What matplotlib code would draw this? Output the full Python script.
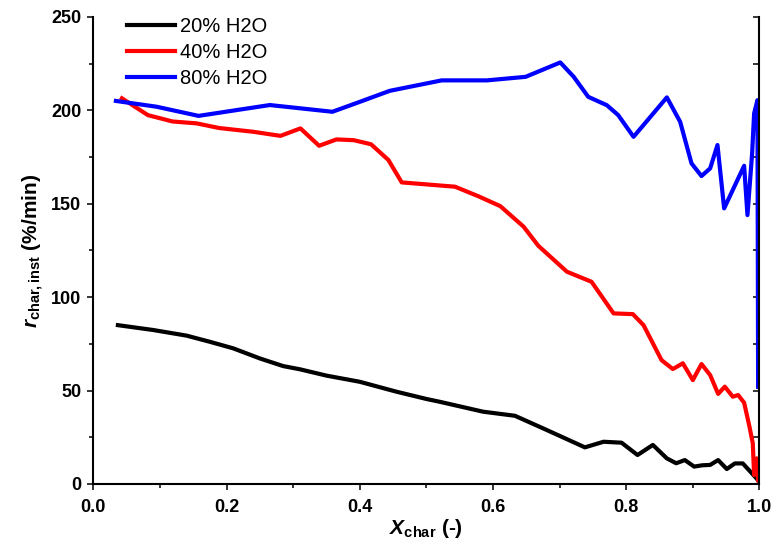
#!/usr/bin/env python3
"""Instantaneous char conversion rate vs. char conversion for three steam levels."""

import matplotlib
matplotlib.use("Agg")
import matplotlib.pyplot as plt
from matplotlib.ticker import MultipleLocator

plt.rcParams["font.family"] = ["Liberation Sans", "DejaVu Sans"]
plt.rcParams["mathtext.fontset"] = "custom"
plt.rcParams["mathtext.rm"] = "Liberation Sans:bold"
plt.rcParams["mathtext.bf"] = "Liberation Sans:bold"
plt.rcParams["mathtext.it"] = "Liberation Sans:bold:italic"

# 20% H2O
x_20 = [0.037, 0.09, 0.14, 0.175, 0.21, 0.25, 0.285, 0.31, 0.35, 0.40, 0.455,
        0.50, 0.52, 0.585, 0.633, 0.68, 0.738, 0.766, 0.793, 0.817, 0.840,
        0.861, 0.875, 0.888, 0.902, 0.914, 0.926, 0.938, 0.951, 0.963, 0.975,
        0.991, 0.998]
r_20 = [85.0, 82.4, 79.4, 76.1, 72.6, 67.2, 63.1, 61.4, 58.0, 54.7, 49.4,
        45.5, 44.0, 38.7, 36.5, 29.0, 19.6, 22.6, 22.1, 15.5, 20.9,
        13.7, 11.1, 12.8, 9.3, 10.0, 10.2, 12.8, 8.0, 11.0, 11.0,
        4.8, 2.0]

# 40% H2O
x_40 = [0.043, 0.082, 0.119, 0.155, 0.189, 0.24, 0.281, 0.311, 0.339, 0.365,
        0.391, 0.417, 0.443, 0.463, 0.543, 0.578, 0.611, 0.646, 0.668, 0.711,
        0.748, 0.781, 0.810, 0.826, 0.853, 0.870, 0.885, 0.900, 0.913, 0.926,
        0.938, 0.948, 0.960, 0.968, 0.977, 0.985, 0.990, 0.992, 0.996, 0.998]
r_40 = [206.4, 197.4, 194.0, 193.0, 190.5, 188.5, 186.3, 190.3, 181.0, 184.4,
        184.0, 181.8, 173.4, 161.4, 159.1, 154.0, 148.7, 137.7, 127.5, 113.6,
        108.2, 91.3, 90.9, 85.0, 66.3, 61.5, 64.6, 55.6, 64.2, 58.3,
        48.2, 52.1, 46.7, 47.6, 43.5, 30.7, 21.8, 4.8, 13.7, 2.0]

# 80% H2O
x_80 = [0.034, 0.095, 0.158, 0.265, 0.359, 0.400, 0.445, 0.523, 0.591, 0.649,
        0.701, 0.721, 0.743, 0.771, 0.788, 0.811, 0.861, 0.881, 0.898, 0.913,
        0.926, 0.937, 0.947, 0.977, 0.982, 0.989, 0.992, 0.997, 0.998]
r_80 = [205.0, 201.9, 197.0, 202.8, 199.2, 204.5, 210.4, 216.0, 216.0, 217.9,
        225.6, 218.0, 207.2, 202.7, 197.4, 185.8, 206.9, 193.8, 171.6, 164.8,
        168.9, 181.4, 147.5, 170.3, 143.9, 176.9, 198.3, 205.4, 52.0]

series = [
    ("20% H2O", x_20, r_20, "black"),
    ("40% H2O", x_40, r_40, "#ff0000"),
    ("80% H2O", x_80, r_80, "#0000ff"),
]

fig = plt.figure(figsize=(7.74, 5.47), dpi=100)
ax = fig.add_axes([0.1205, 0.1152, 0.8607, 0.854])

for label, xs, ys, color in series:
    ax.plot(xs, ys, color=color, lw=3.0, label=label, solid_joinstyle="round")

ax.set_xlim(0, 1.0)
ax.set_ylim(0, 250)
ax.xaxis.set_major_locator(MultipleLocator(0.2))
ax.xaxis.set_minor_locator(MultipleLocator(0.1))
ax.yaxis.set_major_locator(MultipleLocator(50))
ax.yaxis.set_minor_locator(MultipleLocator(25))
ax.xaxis.set_major_formatter(lambda v, pos: f"{v:.1f}")

for side in ("left", "bottom", "right"):
    ax.spines[side].set_linewidth(1.5)
ax.spines["top"].set_visible(False)

ax.tick_params(axis="both", which="major", direction="out", length=4.5, width=1.1,
               labelsize=13)
ax.tick_params(axis="both", which="minor", direction="out", length=3, width=1.1)
ax.tick_params(axis="x", which="major", pad=6)
ax.tick_params(axis="y", which="major", pad=4)
ax.tick_params(axis="y", which="both", right=True, labelright=False)
for lbl in ax.get_xticklabels() + ax.get_yticklabels():
    lbl.set_fontweight("bold")

# right-hand ticks point inward
for tick in ax.yaxis.get_major_ticks() + ax.yaxis.get_minor_ticks():
    tick.tick2line.set_marker(matplotlib.lines.TICKLEFT)
    tick.tick2line.set_markersize(4.5)

ax.set_xlabel(r"$\mathit{X}_{\mathrm{char}}$ (-)", fontsize=15, fontweight="bold",
              labelpad=1)
ax.set_ylabel(r"$\mathit{r}_{\mathrm{char,inst}}$ (%/min)", fontsize=15,
              fontweight="bold", labelpad=4)

ax.legend(loc="upper left", bbox_to_anchor=(0.05, 0.999), frameon=False,
          fontsize=14.5, handlelength=2.4, handletextpad=0.25, labelspacing=0.34,
          borderpad=0, borderaxespad=0)

fig.savefig("out.png", dpi=100, facecolor="white")
